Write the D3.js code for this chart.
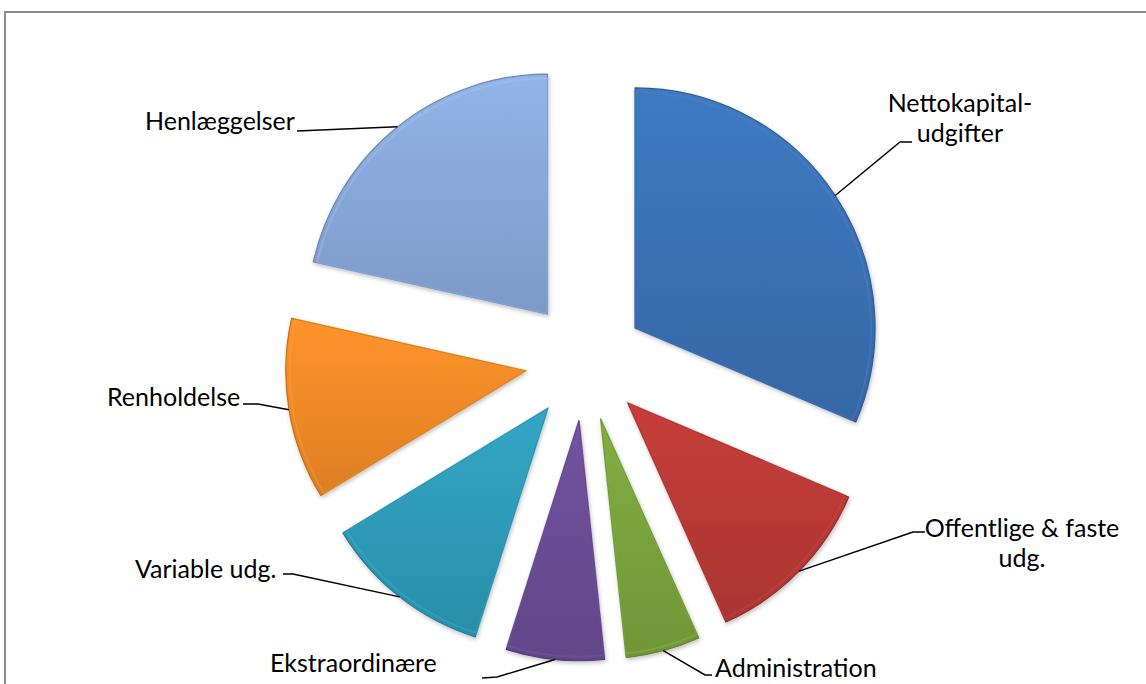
<!DOCTYPE html>
<html>
<head>
<meta charset="utf-8">
<script src="https://cdn.jsdelivr.net/npm/d3@7"></script>
<style>
  body { margin: 0; background: #fff; }
  svg { display: block; }
  .lbl { font-family: Lato, "Open Sans", sans-serif; font-size: 25px; fill: #000; }
</style>
</head>
<body>
<svg width="1146" height="684"></svg>
<script>
// data (share of total, %)
var categories = ["Nettokapital-udgifter", "Offentlige & faste udg.", "Administration",
                  "Ekstraordinære", "Variable udg.", "Renholdelse", "Henlæggelser"];
var values = [31.4, 11.9, 5.0, 6.6, 11.4, 12.2, 21.5];
var labelLines = [["Nettokapital-", "udgifter"], ["Offentlige & faste", "udg."], ["Administration"],
                  ["Ekstraordinære"], ["Variable udg."], ["Renholdelse"], ["Henlæggelser"]];
var colors = ["#3b71b4", "#b93a36", "#79a33d", "#6a4d95", "#2f9bb8", "#f28a27", "#88a8d8"];

// label placement (layout only)
var labelLayout = [
  {x: 960, y: 112, anchor: "middle", elbow: [900, 142], end: [912, 142]},
  {x: 1022, y: 537, anchor: "middle", elbow: [913, 532], end: [925, 532]},
  {x: 715, y: 677, anchor: "start", elbow: [705, 675], end: [712, 675]},
  {x: 270, y: 672, anchor: "start", elbow: [497, 677], end: [482, 678]},
  {x: 135, y: 578, anchor: "start", elbow: [293, 574], end: [283, 574]},
  {x: 107, y: 406, anchor: "start", elbow: [258, 404], end: [243, 404]},
  {x: 145, y: 130, anchor: "start", elbow: [297, 131], end: [297, 131]}
];

var svg = d3.select("svg"),
    cx = 585, cy = 361,   // centre of the pie
    radius = 240,
    explode = 60;

// frame (right and bottom edges fall outside the picture)
svg.append("rect")
    .attr("x", 5).attr("y", 12)
    .attr("width", 1200).attr("height", 720)
    .attr("fill", "#fff")
    .attr("stroke", "#8c8c8c")
    .attr("stroke-width", 2);

var defs = svg.append("defs");

// soft shadow
var f = defs.append("filter").attr("id", "shadow")
    .attr("x", "-20%").attr("y", "-20%").attr("width", "140%").attr("height", "140%");
f.append("feDropShadow").attr("dx", 1).attr("dy", 2).attr("stdDeviation", 2)
    .attr("flood-color", "#000").attr("flood-opacity", 0.25);

// gradient for each slice
colors.forEach(function(c, i) {
  var g = defs.append("linearGradient").attr("id", "grad" + i)
      .attr("x1", 0).attr("y1", 0).attr("x2", 0).attr("y2", 1);
  g.append("stop").attr("offset", "0%").attr("stop-color", d3.color(c).brighter(0.2));
  g.append("stop").attr("offset", "100%").attr("stop-color", d3.color(c).darker(0.25));
});

var pie = d3.pie().sort(null).value(function(d) { return d; });
var arcs = pie(values);

var arc = d3.arc().innerRadius(0).outerRadius(radius);
var outer = d3.arc().innerRadius(radius).outerRadius(radius);

function offset(d) {
  var a = (d.startAngle + d.endAngle) / 2;
  return [Math.sin(a) * explode, -Math.cos(a) * explode];
}

var g = svg.append("g").attr("transform", "translate(" + cx + "," + cy + ")");

var slice = g.selectAll("g.slice")
    .data(arcs)
    .enter().append("g")
    .attr("class", "slice")
    .attr("transform", function(d) { var o = offset(d); return "translate(" + o[0] + "," + o[1] + ")"; });

slice.append("path")
    .attr("d", arc)
    .attr("fill", function(d, i) { return "url(#grad" + i + ")"; })
    .attr("stroke", function(d, i) { return d3.color(colors[i]).darker(0.6); })
    .attr("stroke-width", 1.2)
    .attr("stroke-linejoin", "round")
    .attr("filter", "url(#shadow)");

// inner bevel highlight
slice.append("path")
    .attr("d", d3.arc().innerRadius(0).outerRadius(radius - 4))
    .attr("fill", "none")
    .attr("stroke", function(d, i) { return d3.color(colors[i]).brighter(0.5); })
    .attr("stroke-opacity", 0.35)
    .attr("stroke-width", 2);

// leader lines
var leaders = svg.append("g");
arcs.forEach(function(d, i) {
  var o = offset(d), p = outer.centroid(d), L = labelLayout[i];
  var start = [cx + o[0] + p[0], cy + o[1] + p[1]];
  leaders.append("path")
      .attr("d", d3.line()([start, L.elbow, L.end]))
      .attr("fill", "none")
      .attr("stroke", "#000")
      .attr("stroke-width", 1.5);
});

// labels
var labels = svg.append("g");
labelLines.forEach(function(lines, i) {
  var L = labelLayout[i];
  var t = labels.append("text")
      .attr("class", "lbl")
      .attr("text-anchor", L.anchor)
      .attr("x", L.x).attr("y", L.y);
  lines.forEach(function(s, j) {
    t.append("tspan").attr("x", L.x).attr("dy", j === 0 ? 0 : 30).text(s);
  });
});
</script>
</body>
</html>
